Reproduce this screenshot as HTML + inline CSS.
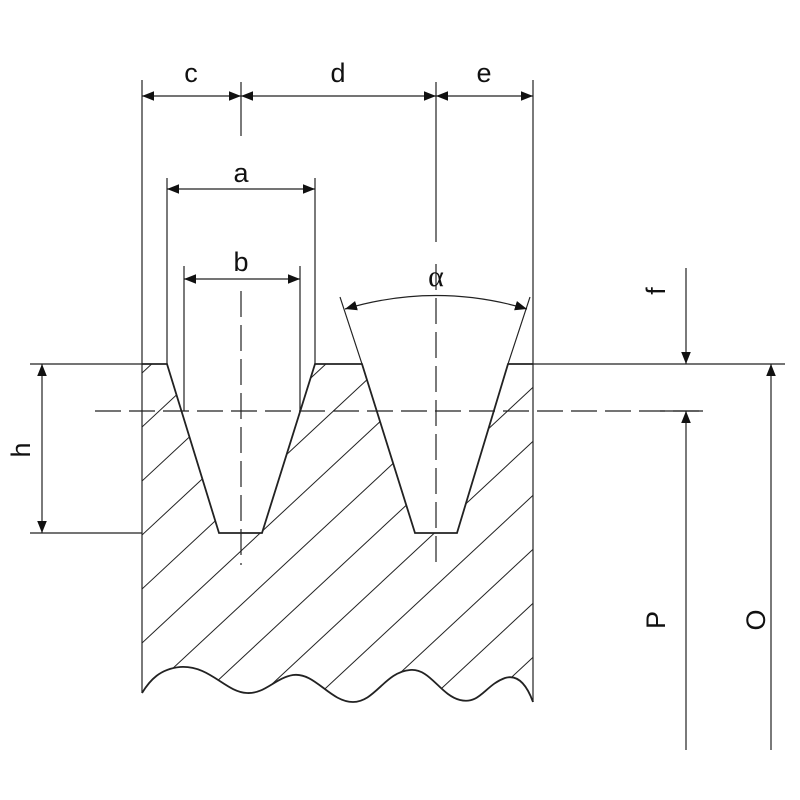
<!DOCTYPE html>
<html><head><meta charset="utf-8"><style>html,body{margin:0;padding:0;background:#fff;width:800px;height:800px;overflow:hidden}svg{display:block}</style></head>
<body>
<svg width="800" height="800" viewBox="0 0 800 800" xmlns="http://www.w3.org/2000/svg" font-family="Liberation Sans, sans-serif">
<defs>
<marker id="ar" viewBox="0 0 10 10" refX="10" refY="5" markerWidth="12" markerHeight="12" markerUnits="userSpaceOnUse" orient="auto-start-reverse"><path d="M0,1 L10,5 L0,9z" fill="#111"/></marker>
<clipPath id="body"><path d="M142,364 L167,364 L219,533 L262,533 L315,364 L362,364 L415,533 L457,533 L508,364 L533,364 L533,702 C525,680 515,675 505,678 C485,685 480,705 460,700 C440,695 430,668 410,670 C385,672 375,702 353,702 C330,702 315,672 293,675 C275,678 265,694 247,693 C225,692 210,665 180,667 C160,669 150,680 142,693 Z"/></clipPath>
</defs>
<g stroke="#222" fill="none">
<g clip-path="url(#body)" stroke-width="1">
<line x1="142" y1="373" x2="742" y2="-185"/>
<line x1="142" y1="427" x2="742" y2="-131"/>
<line x1="142" y1="481" x2="742" y2="-77"/>
<line x1="142" y1="535" x2="742" y2="-23"/>
<line x1="142" y1="589" x2="742" y2="31"/>
<line x1="142" y1="643" x2="742" y2="85"/>
<line x1="142" y1="697" x2="742" y2="139"/>
<line x1="142" y1="751" x2="742" y2="193"/>
<line x1="142" y1="805" x2="742" y2="247"/>
<line x1="142" y1="859" x2="742" y2="301"/>
<line x1="142" y1="913" x2="742" y2="355"/>
<line x1="142" y1="967" x2="742" y2="409"/>
<line x1="142" y1="1021" x2="742" y2="463"/>
</g>
<path d="M142,364 L167,364 L219,533 L262,533 L315,364 L362,364 L415,533 L457,533 L508,364 L533,364 M142,693 C150,680 160,669 180,667 C210,665 225,692 247,693 C265,694 275,678 293,675 C315,672 330,702 353,702 C375,702 385,672 410,670 C430,668 440,695 460,700 C480,705 485,685 505,678 C515,675 525,680 533,702" stroke-width="1.8"/>
<g stroke-width="1.2">
<line x1="142" y1="80" x2="142" y2="693"/>
<line x1="533" y1="80" x2="533" y2="702"/>
<line x1="241" y1="82" x2="241" y2="136"/>
<line x1="436" y1="82" x2="436" y2="242"/>
<line x1="167" y1="178" x2="167" y2="364"/>
<line x1="315" y1="178" x2="315" y2="364"/>
<line x1="184" y1="266" x2="184" y2="411"/>
<line x1="300" y1="266" x2="300" y2="411"/>
<line x1="362" y1="364" x2="340" y2="297"/>
<line x1="508" y1="364" x2="530" y2="297"/>
<line x1="30" y1="364" x2="142" y2="364"/>
<line x1="30" y1="533" x2="142" y2="533"/>
<line x1="533" y1="364" x2="785" y2="364"/>
<line x1="660" y1="411" x2="703" y2="411"/>
<path d="M95,411 H703" stroke-dasharray="26,8"/>
<path d="M241,291 V565" stroke-dasharray="26,8"/>
<path d="M436,264 V565" stroke-dasharray="26,8"/>
<line x1="142" y1="96" x2="241" y2="96" marker-start="url(#ar)" marker-end="url(#ar)"/>
<line x1="241" y1="96" x2="436" y2="96" marker-start="url(#ar)" marker-end="url(#ar)"/>
<line x1="436" y1="96" x2="533" y2="96" marker-start="url(#ar)" marker-end="url(#ar)"/>
<line x1="167" y1="189" x2="315" y2="189" marker-start="url(#ar)" marker-end="url(#ar)"/>
<line x1="184" y1="279" x2="300" y2="279" marker-start="url(#ar)" marker-end="url(#ar)"/>
<path d="M345,309 Q436,282 527,309" marker-start="url(#ar)" marker-end="url(#ar)"/>
<line x1="42" y1="364" x2="42" y2="533" marker-start="url(#ar)" marker-end="url(#ar)"/>
<line x1="686" y1="268" x2="686" y2="364" marker-end="url(#ar)"/>
<line x1="686" y1="750" x2="686" y2="411" marker-end="url(#ar)"/>
<line x1="771" y1="750" x2="771" y2="364" marker-end="url(#ar)"/>
</g>
</g>
<g fill="#111" font-size="27" text-anchor="middle">
<text x="191" y="82">c</text>
<text x="338" y="82">d</text>
<text x="484" y="82">e</text>
<text x="241" y="182">a</text>
<text x="241" y="271">b</text>
<text x="436" y="286" font-family="Liberation Serif, serif" font-size="30">α</text>
<text transform="translate(30,450) rotate(-90)">h</text>
<text transform="translate(665,291) rotate(-90)">f</text>
<text transform="translate(665,620) rotate(-90)">P</text>
<text transform="translate(765,620) rotate(-90)">O</text>
</g>
</svg>
</body></html>
